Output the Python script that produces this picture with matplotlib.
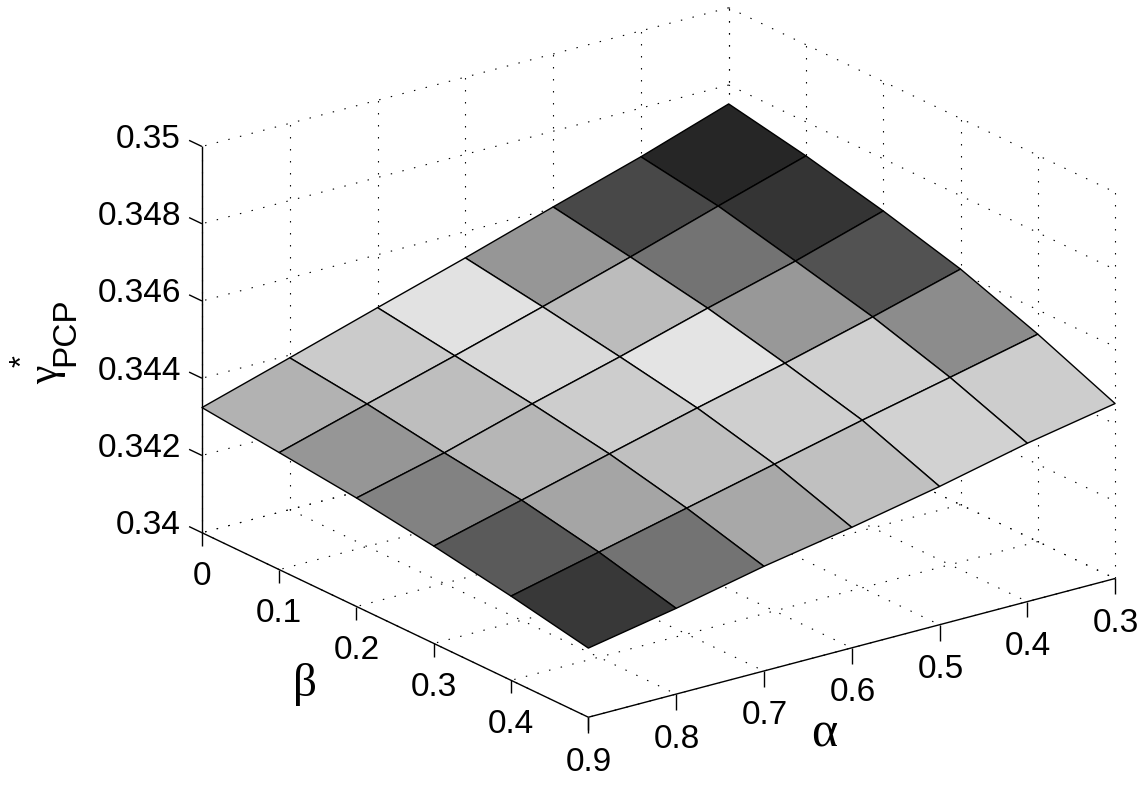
# -*- coding: utf-8 -*-
import matplotlib
matplotlib.use("Agg")
import matplotlib.pyplot as plt
from mpl_toolkits.mplot3d import proj3d
import numpy as np

W, H = 1148, 787

alpha = [0.9, 0.8, 0.7, 0.6, 0.5, 0.4, 0.3]
beta = [0, 0.1, 0.2, 0.3, 0.4, 0.5]
z_ticks = [0.34, 0.342, 0.344, 0.346, 0.348, 0.35]
z_labels = ["0.34", "0.342", "0.344", "0.346", "0.348", "0.35"]
alpha_labels = ["0.9", "0.8", "0.7", "0.6", "0.5", "0.4", "0.3"]
beta_labels = ["0", "0.1", "0.2", "0.3", "0.4"]

# gamma*_PCP, one row per beta, alpha going 0.9 -> 0.3
gamma = [
    [0.34324, 0.34393, 0.34463, 0.34532, 0.34604, 0.34674, 0.34751],
    [0.34303, 0.34369, 0.34434, 0.34501, 0.34570, 0.34642, 0.34712],
    [0.34281, 0.34338, 0.34405, 0.34467, 0.34533, 0.34595, 0.34665],
    [0.34252, 0.34311, 0.34371, 0.34430, 0.34486, 0.34546, 0.34610],
    [0.34218, 0.34272, 0.34326, 0.34380, 0.34434, 0.34485, 0.34537],
    [0.34179, 0.34222, 0.34271, 0.34312, 0.34358, 0.34410, 0.34453],
]

# grey level of each cell (0-255), same order
cell_grey = [
    [178, 203, 226, 150, 72, 38],
    [150, 190, 217, 188, 115, 52],
    [130, 182, 205, 228, 152, 82],
    [90, 165, 192, 207, 208, 140],
    [56, 115, 168, 192, 210, 205],
]

plt.rcParams['font.family'] = ['Liberation Sans', 'DejaVu Sans']

fig = plt.figure(figsize=(W / 100, H / 100), dpi=100)
# square axes larger than the figure so that 1 data box = the pixel size wanted
side = 981
cx, cy = 658.5, 424.5
off = 0.5135 * side
ax = fig.add_axes([(cx - off) / W, (cy - off) / H, side / W, side / H],
                  projection='3d', proj_type='ortho', computed_zorder=False)
ax.view_init(elev=20.77, azim=53.4)
ax.set_box_aspect((656, 648, 413))

a_lo, a_hi = min(alpha), max(alpha)
b_lo, b_hi = min(beta), max(beta)
z_lo, z_hi = min(z_ticks), max(z_ticks)
ax.set_xlim(a_lo, a_hi)
ax.set_ylim(b_lo, b_hi)
ax.set_zlim(z_lo, z_hi)

dot = dict(color='black', lw=0.8, linestyle=(0, (1.3, 9.5)), zorder=1)
solid = dict(color='black', lw=1.0, zorder=3, solid_capstyle='butt')


def tick_label(a, b, z, s, dx, dy, ha='center'):
    # label placed some pixels away from its projected tick
    x2, y2, _ = proj3d.proj_transform(a, b, z, ax.get_proj())
    ax.annotate(s, (x2, y2), xytext=(dx, dy), textcoords='offset pixels', fontsize=24,
                ha=ha, va='center', annotation_clip=False)


# dotted grid on the floor and the two back walls
for a in alpha:
    ax.plot([a, a], [b_lo, b_hi], [z_lo, z_lo], **dot)
    ax.plot([a, a], [b_lo, b_lo], [z_lo, z_hi], **dot)
for b in beta:
    ax.plot([a_lo, a_hi], [b, b], [z_lo, z_lo], **dot)
    ax.plot([a_lo, a_lo], [b, b], [z_lo, z_hi], **dot)
for z in z_ticks:
    ax.plot([a_lo, a_hi], [b_lo, b_lo], [z, z], **dot)
    ax.plot([a_lo, a_lo], [b_lo, b_hi], [z, z], **dot)

# axis lines
ax.plot([a_hi, a_hi], [b_lo, b_lo], [z_lo, z_hi], **solid)
ax.plot([a_hi, a_hi], [b_lo, b_hi], [z_lo, z_lo], **solid)
ax.plot([a_hi, a_lo], [b_hi, b_hi], [z_lo, z_lo], **solid)

# ticks and tick labels
for z, s in zip(z_ticks, z_labels):
    ax.plot([a_hi, a_hi], [b_lo, b_lo - 0.0166], [z, z], **solid)
    tick_label(a_hi, b_lo, z, s, -21, 7, ha='right')
for b in beta:
    ax.plot([a_hi, a_hi], [b, b], [z_lo, z_lo - 0.00034], **solid)
for b, s in zip(beta, beta_labels):
    tick_label(a_hi, b, z_lo, s, 0, -44)
for a, s in zip(alpha, alpha_labels):
    ax.plot([a, a], [b_hi, b_hi], [z_lo, z_lo - 0.00041], **solid)
    tick_label(a, b_hi, z_lo, s, 1, -45)

# the surface
A, B = np.meshgrid(alpha, beta)
Z = np.array(gamma)
grey = np.array(cell_grey) / 255.0
colors = np.dstack([grey, grey, grey, np.ones_like(grey)])
ax.plot_surface(A, B, Z, rstride=1, cstride=1, facecolors=colors, shade=False,
                edgecolor='black', linewidth=1.0, antialiased=True, zorder=2)

ax.set_xlim(a_lo, a_hi)
ax.set_ylim(b_lo, b_hi)
ax.set_zlim(z_lo, z_hi)
# only the hand drawn axes stay, no built-in ticks or panes
ax.set_xticks([])
ax.set_yticks([])
ax.set_zticks([])
ax.set_axis_off()

# axis titles
serif = ['Liberation Serif', 'DejaVu Serif']
fig.text(305 / W, 1 - 685 / H, "\u03b2", fontsize=34, family=serif, ha='center', va='center')
fig.text(824 / W, 1 - 734 / H, "\u03b1", fontsize=36, family=serif, ha='center', va='center')
fig.text(47 / W, 1 - 375 / H, "\u03b3", fontsize=30, family=serif, rotation=90, ha='center', va='center')
fig.text(66 / W, 1 - 332 / H, "PCP", fontsize=24, rotation=90, ha='center', va='center')
fig.text(23 / W, 1 - 361 / H, "*", fontsize=22, rotation=90, ha='center', va='center')

fig.savefig("out.png", dpi=100)
